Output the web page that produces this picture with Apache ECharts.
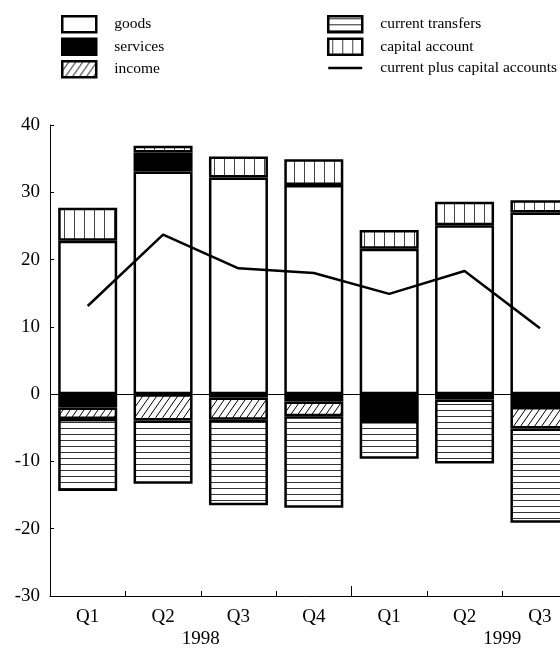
<!DOCTYPE html>
<html>
<head>
<meta charset="utf-8">
<script src="https://cdn.jsdelivr.net/npm/echarts@6/dist/echarts.min.js"></script>
<style>
    html, body { margin: 0; padding: 0; background: #fff; }
    #chart { width: 560px; height: 648px; }
</style>
</head>
<body>
<div id="chart"></div>
<script>
/*== data ==*/
var quarters = ['Q1', 'Q2', 'Q3', 'Q4', 'Q1', 'Q2', 'Q3', 'Q4'];
var years = ['1998', '1999'];
var goods = [22.8, 33.1, 32.2, 31.1, 21.6, 25.1, 27.0, '-'];
var services = [-2.0, 2.8, -0.5, -1.1, -3.4, -0.1, -1.9, '-'];
var income = [-1.7, -3.9, -3.3, -2.2, -0.6, -0.7, -3.2, '-'];
var transfers = [-10.7, -9.4, -12.7, -13.6, -5.6, -9.5, -14.0, '-'];
var capital = [4.9, 1.0, 3.1, 3.8, 2.8, 3.5, 1.8, '-'];
var total = [13.1, 23.7, 18.7, 18.0, 14.9, 18.3, 9.8, '-'];

var FONT = '"Liberation Serif", "DejaVu Serif", serif';

/*== fill patterns ==*/
function makePattern(w, h, draw) {
    var c = document.createElement('canvas');
    c.width = w;
    c.height = h;
    var ctx = c.getContext('2d');
    ctx.fillStyle = '#fff';
    ctx.fillRect(0, 0, w, h);
    draw(ctx, w, h);
    return { image: c, repeat: 'repeat' };
}
var hatch = makePattern(7, 10, function(ctx, w, h){
    ctx.strokeStyle = '#000';
    ctx.lineWidth = 1;
    ctx.beginPath();
    ctx.moveTo(-w, h); ctx.lineTo(0, 0);
    ctx.moveTo(0, h); ctx.lineTo(w, 0);
    ctx.moveTo(w, h); ctx.lineTo(2 * w, 0);
    ctx.stroke();
});
var hlines = makePattern(6, 6, function(ctx, w){
    ctx.fillStyle = '#333';
    ctx.fillRect(0, 2, w, 1);
});
var vlines = makePattern(10, 10, function(ctx, w, h){
    ctx.fillStyle = '#444';
    ctx.fillRect(4, 0, 1, h);
});

function barSeries(name, data, fill) {
    return {
        name: name,
        type: 'bar',
        stack: 'bop',
        barWidth: 59,
        data: data,
        itemStyle: { color: fill, borderColor: '#000', borderWidth: 2.5 },
        emphasis: { disabled: true },
        animation: false
    };
}

var series = [
    barSeries('goods', goods, '#fff'),
    barSeries('services', services, '#000'),
    barSeries('income', income, hatch),
    barSeries('current transfers', transfers, hlines),
    barSeries('capital account', capital, vlines),
    {
        name: 'current plus capital accounts',
        type: 'line',
        data: total,
        symbol: 'none',
        z: 5,
        color: '#000',
        lineStyle: { color: '#000', width: 2.5 },
        animation: false,
        markLine: {
            silent: true,
            symbol: ['none', 'none'],
            label: { show: false },
            lineStyle: { color: '#000', width: 1, type: 'solid' },
            data: [{ yAxis: 0 }]
        }
    }
];

var legendBase = {
    orient: 'vertical',
    top: 15,
    padding: 0,
    icon: 'rect',
    itemWidth: 34,
    itemHeight: 16,
    itemGap: 4,
    selectedMode: false,
    itemStyle: { borderColor: '#000', borderWidth: 2.5 },
    textStyle: { fontFamily: FONT, fontSize: 15.5, color: '#000', padding: [0, 0, 0, 13] }
};

var option = {
    backgroundColor: '#fff',
    animation: false,
    legend: [
        Object.assign({}, legendBase, { left: 61, data: ['goods', 'services', 'income'] }),
        Object.assign({}, legendBase, {
            left: 327,
            data: [
                'current transfers',
                'capital account',
                { name: 'current plus capital accounts', icon: 'path://M0,0 H34 V2.6 H0 Z', itemStyle: { borderWidth: 0, color: '#000' } }
            ]
        })
    ],
    grid: { left: 50, width: 603, top: 125, bottom: 52, outerBoundsMode: 'none', containLabel: false },
    xAxis: [
        {
            type: 'category',
            data: quarters,
            axisLine: { onZero: false, lineStyle: { color: '#000', width: 1 } },
            axisTick: { show: true, interval: 0, inside: true, length: 5, lineStyle: { color: '#000', width: 1 } },
            axisLabel: { interval: 0, margin: 12, color: '#000', fontFamily: FONT, fontSize: 19 }
        },
        {
            type: 'value',
            position: 'bottom',
            min: 0,
            max: 8,
            axisLine: { show: false, onZero: false },
            splitLine: { show: false },
            axisTick: { show: true, inside: true, length: 10, customValues: [4], lineStyle: { color: '#000' } },
            axisLabel: {
                customValues: [2, 6],
                margin: 34,
                color: '#000', fontFamily: FONT, fontSize: 19,
                formatter: function(v){ return v === 2 ? years[0] : years[1]; }
            }
        }
    ],
    yAxis: {
        type: 'value',
        min: -30,
        max: 40,
        interval: 10,
        axisLine: { show: true, lineStyle: { color: '#000', width: 1 } },
        axisTick: { show: true, inside: true, length: 4, lineStyle: { color: '#000' } },
        splitLine: { show: false },
        axisLabel: { margin: 10, color: '#000', fontFamily: FONT, fontSize: 19 }
    },
    series: series
};

var myChart = echarts.init(document.getElementById('chart'), null, { renderer: 'canvas' });
myChart.setOption(option);
</script>
</body>
</html>
